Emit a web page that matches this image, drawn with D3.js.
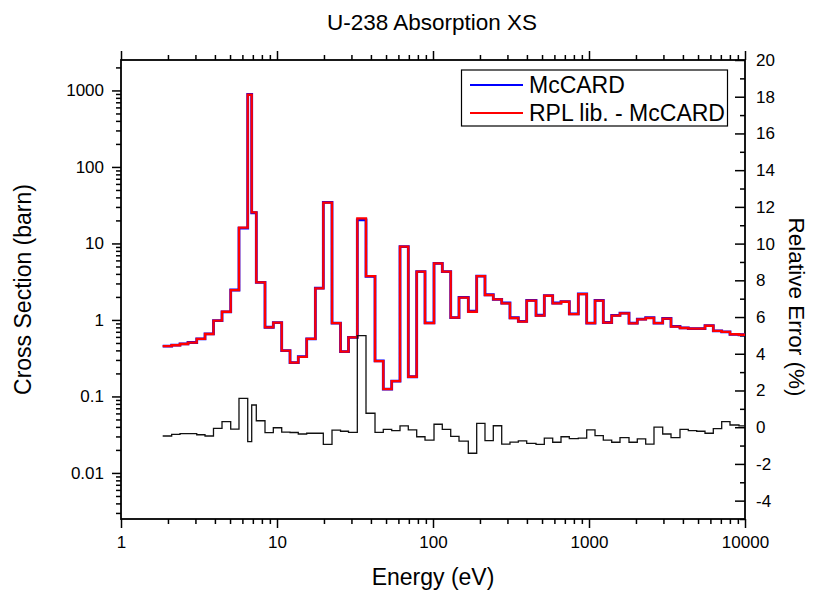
<!DOCTYPE html>
<html>
<head>
<meta charset="utf-8">
<script src="https://cdn.jsdelivr.net/npm/d3@7/dist/d3.min.js"></script>
<style>
  body { margin: 0; background: #fff; }
  text { font-family: "Liberation Sans", Arial, sans-serif; fill: #000; }
</style>
</head>
<body>
<svg id="chart" width="815" height="596"></svg>
<script>
// Group boundaries (eV) for the absorption cross-section histogram
const energyEdges = [1.85, 2.113, 2.389, 2.689, 3.058, 3.456, 3.916, 4.441, 5.05, 5.706,
  6.491, 6.884, 7.367, 8.377, 9.47, 10.72, 12.12, 13.69, 15.5, 17.61,
  19.81, 22.52, 25.54, 28.73, 32.72, 37.2, 42.49, 48.01, 54.36, 61.45,
  69.44, 78.61, 88.88, 101.5, 114.7, 129.9, 146.8, 168.4, 190.6, 215.4,
  243.5, 275.7, 311.5, 352.3, 398.7, 457.5, 517, 585.2, 661.6, 747.8,
  854, 966.7, 1093, 1235, 1398, 1580, 1805, 2040, 2309, 2610,
  2968, 3355, 3831, 4330, 4902, 5541, 6264, 7090, 8013, 9153, 10000];

// Group-wise absorption cross sections (barn), McCARD reference
const mccardXS = [0.456, 0.468, 0.487, 0.507, 0.566, 0.658, 0.981, 1.276, 2.462, 15.85,
  886, 25.2, 3.09, 0.802, 0.92, 0.397, 0.277, 0.331, 0.566, 2.6,
  34.4, 0.911, 0.386, 0.592, 20.3, 3.72, 0.291, 0.125, 0.159, 9.06,
  0.181, 4.29, 0.916, 5.49, 4.27, 1.075, 1.975, 1.30, 3.74, 2.135,
  1.86, 1.665, 1.069, 0.957, 1.806, 1.151, 2.082, 1.664, 1.739, 1.197,
  2.193, 0.911, 1.798, 0.926, 1.149, 1.227, 0.907, 1.027, 1.07, 0.91,
  1.044, 0.825, 0.786, 0.771, 0.772, 0.843, 0.72, 0.698, 0.649, 0.64];

// Group-wise absorption cross sections (barn), RPL library
const rplXS = [0.455, 0.467, 0.485, 0.505, 0.564, 0.655, 0.98, 1.28, 2.46, 16.1,
  879, 25.5, 3.10, 0.80, 0.92, 0.396, 0.276, 0.33, 0.564, 2.59,
  34.1, 0.91, 0.385, 0.59, 21.3, 3.75, 0.29, 0.125, 0.159, 9.07,
  0.181, 4.27, 0.91, 5.5, 4.27, 1.07, 1.96, 1.28, 3.75, 2.12,
  1.86, 1.65, 1.06, 0.95, 1.79, 1.14, 2.07, 1.65, 1.73, 1.19,
  2.18, 0.91, 1.79, 0.92, 1.14, 1.22, 0.90, 1.02, 1.06, 0.91,
  1.04, 0.82, 0.785, 0.77, 0.77, 0.84, 0.72, 0.70, 0.65, 0.64];

// Relative error of RPL vs McCARD per group (%)
const relErr = [-0.48, -0.39, -0.35, -0.35, -0.41, -0.48, -0.06, 0.30, -0.10, 1.57,
  -0.79, 1.21, 0.35, -0.30, -0.03, -0.27, -0.29, -0.37, -0.33, -0.33,
  -0.93, -0.16, -0.22, -0.28, 4.99, 0.76, -0.28, -0.12, -0.19, 0.07,
  -0.15, -0.52, -0.70, 0.16, -0.12, -0.50, -0.76, -1.42, 0.21, -0.73,
  0.08, -0.92, -0.81, -0.75, -0.88, -0.93, -0.60, -0.82, -0.52, -0.62,
  -0.60, -0.15, -0.46, -0.70, -0.82, -0.57, -0.82, -0.64, -0.92, 0.00,
  -0.37, -0.57, -0.12, -0.19, -0.22, -0.33, -0.08, 0.30, 0.12, 0.07];

const xTicks = [1, 10, 100, 1000, 10000];
const yLeftTicks = [0.01, 0.1, 1, 10, 100, 1000];
const yRightTicks = [-4, -2, 0, 2, 4, 6, 8, 10, 12, 14, 16, 18, 20];
const yRightMinor = [-5, -3, -1, 1, 3, 5, 7, 9, 11, 13, 15, 17, 19];
const seriesNames = ["McCARD", "RPL lib. - McCARD"];
const seriesColors = ["#0000ff", "#ff0000"];

const svg = d3.select("#chart");
const L = 121, R = 745, T = 60, B = 519;

const x = d3.scaleLog().domain([1, 10000]).range([L, R]);
const yL = d3.scaleLog().domain([0.0025, 2500]).range([B, T]);
const yR = d3.scaleLinear().domain([-5, 20]).range([B, T]);

// minor ticks of a log axis: 2..9 multiples inside the domain
function logMinor(scale) {
  const [a, b] = scale.domain();
  const out = [];
  for (let p = Math.floor(Math.log10(a)); p <= Math.ceil(Math.log10(b)); p++) {
    for (let k = 2; k <= 9; k++) {
      const v = k * Math.pow(10, p);
      if (v >= a * 0.999 && v <= b * 1.001) out.push(v);
    }
  }
  return out;
}

function styleAxis(g) {
  g.select(".domain").remove();
  g.selectAll(".tick line").attr("stroke", "#000").attr("stroke-width", 1.5);
  g.selectAll(".tick text").style("font-size", "17px").attr("fill", "#000");
}

// bottom axis
svg.append("g").attr("transform", `translate(0,${B})`)
  .call(d3.axisBottom(x).tickValues(xTicks).tickFormat(d => String(d)).tickSize(9).tickPadding(8))
  .call(styleAxis);
svg.append("g").attr("transform", `translate(0,${B})`)
  .call(d3.axisBottom(x).tickValues(logMinor(x)).tickFormat("").tickSize(5))
  .call(styleAxis);
// top axis (unlabelled)
svg.append("g").attr("transform", `translate(0,${T})`)
  .call(d3.axisTop(x).tickValues(xTicks).tickFormat("").tickSize(9))
  .call(styleAxis);
svg.append("g").attr("transform", `translate(0,${T})`)
  .call(d3.axisTop(x).tickValues(logMinor(x)).tickFormat("").tickSize(5))
  .call(styleAxis);
// left axis
svg.append("g").attr("transform", `translate(${L},0)`)
  .call(d3.axisLeft(yL).tickValues(yLeftTicks).tickFormat(d => String(d)).tickSize(9).tickPadding(8))
  .call(styleAxis);
svg.append("g").attr("transform", `translate(${L},0)`)
  .call(d3.axisLeft(yL).tickValues(logMinor(yL)).tickFormat("").tickSize(5))
  .call(styleAxis);
// right axis, ticks pointing into the plot
svg.append("g").attr("transform", `translate(${R},0)`)
  .call(d3.axisRight(yR).tickValues(yRightTicks).tickFormat(d => String(d)).tickSizeInner(-10).tickSizeOuter(0).tickPadding(11))
  .call(styleAxis);
svg.append("g").attr("transform", `translate(${R},0)`)
  .call(d3.axisRight(yR).tickValues(yRightMinor).tickFormat("").tickSizeInner(-5).tickSizeOuter(0))
  .call(styleAxis);

// frame
svg.append("rect").attr("x", L).attr("y", T).attr("width", R - L).attr("height", B - T)
  .attr("fill", "none").attr("stroke", "#000").attr("stroke-width", 1.8);

// step-line helpers
function stepPoints(values) {
  const pts = values.map((v, i) => [energyEdges[i], v]);
  pts.push([energyEdges[values.length], values[values.length - 1]]);
  return pts;
}
const lineL = d3.line().x(d => x(d[0])).y(d => yL(d[1])).curve(d3.curveStepAfter);
const lineR = d3.line().x(d => x(d[0])).y(d => yR(d[1])).curve(d3.curveStepAfter);

svg.append("path").attr("d", lineL(stepPoints(mccardXS)))
  .attr("fill", "none").attr("stroke", seriesColors[0]).attr("stroke-width", 2.8);
svg.append("path").attr("d", lineL(stepPoints(rplXS)))
  .attr("fill", "none").attr("stroke", seriesColors[1]).attr("stroke-width", 2.3);
svg.append("path").attr("d", lineR(stepPoints(relErr)))
  .attr("fill", "none").attr("stroke", "#111").attr("stroke-width", 1.3);

// legend
const lg = svg.append("g");
lg.append("rect").attr("x", 461.5).attr("y", 70).attr("width", 266).attr("height", 56)
  .attr("fill", "#fff").attr("stroke", "#000").attr("stroke-width", 1.2);
seriesNames.forEach((name, i) => {
  const cy = 85 + i * 28;
  lg.append("line").attr("x1", 470).attr("x2", 523).attr("y1", cy).attr("y2", cy)
    .attr("stroke", seriesColors[i]).attr("stroke-width", 2);
  lg.append("text").attr("x", 529).attr("y", cy + 8.3).style("font-size", "23px").text(name);
});

// titles
svg.append("text").attr("x", 432).attr("y", 30).attr("text-anchor", "middle")
  .style("font-size", "22.5px").text("U-238 Absorption XS");
svg.append("text").attr("x", 433).attr("y", 585).attr("text-anchor", "middle")
  .style("font-size", "23px").text("Energy (eV)");
svg.append("text").attr("transform", `translate(31,${(T + B) / 2}) rotate(-90)`)
  .attr("text-anchor", "middle").style("font-size", "23px").text("Cross Section (barn)");
svg.append("text").attr("transform", `translate(789,307) rotate(90)`)
  .attr("text-anchor", "middle").style("font-size", "22.5px").text("Relative Error (%)");
</script>
</body>
</html>
